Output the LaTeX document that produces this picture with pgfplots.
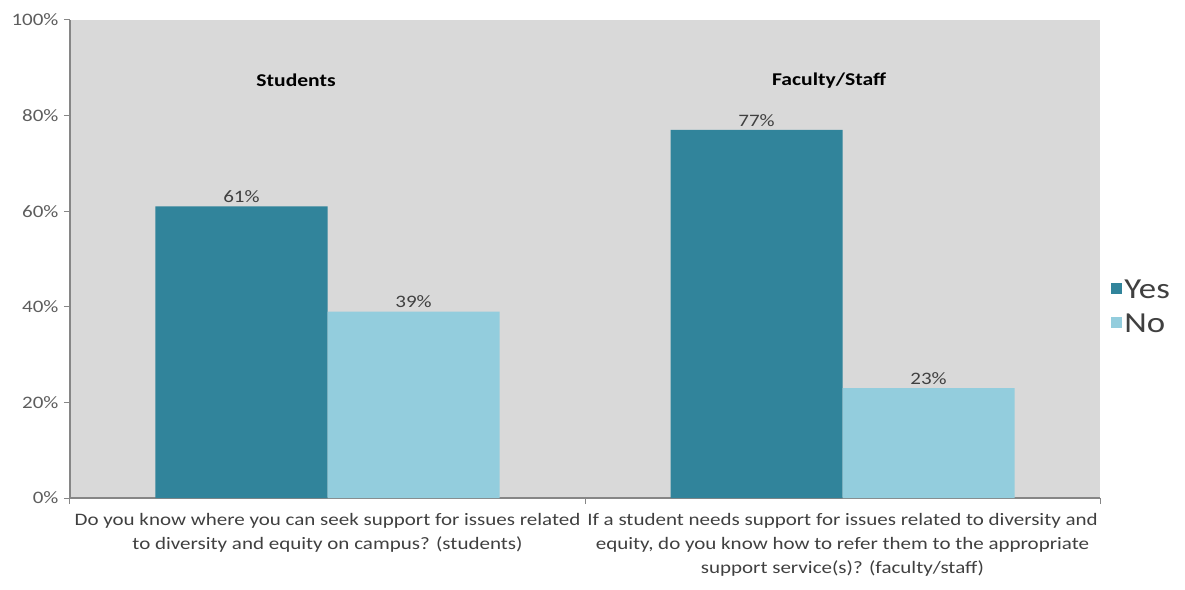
\documentclass[border=0pt]{standalone}
\usepackage{pgfplots}
\pgfplotsset{compat=1.18}
\usepackage{fontspec}
\setmainfont{Carlito}[FakeStretch=1.2]
\definecolor{yescol}{RGB}{49,132,155}
\definecolor{nocol}{RGB}{147,205,221}
\definecolor{bgcol}{RGB}{217,217,217}
\definecolor{axcol}{RGB}{134,134,134}
\definecolor{txtcol}{RGB}{64,64,64}
\begin{document}
\begin{tikzpicture}
\path[use as bounding box] (-70pt,-91pt) rectangle (1115pt,498pt);
\begin{axis}[
  at={(0pt,0pt)}, anchor=south west,
  scale only axis, width=1030pt, height=478pt,
  ybar=0pt, bar width=172pt,
  xmin=-0.5, xmax=1.5, ymin=0, ymax=100,
  axis background/.style={fill=bgcol},
  axis x line=bottom, axis y line=left,
  axis line style={draw=axcol, line width=1.2pt, -},
  tick align=outside,
  major tick length=6pt,
  tick style={draw=axcol, line width=1pt},
  xtick={-0.5,0.5,1.5}, xticklabels={,,},
  extra x ticks={0,1},
  extra x tick style={major tick length=0pt, grid=none},
  extra x tick labels={{Do you know where you can seek support for issues related\\to diversity and equity on campus? (students)},
    {If a student needs support for issues related to diversity and\\equity, do you know how to refer them to the appropriate\\support service(s)? (faculty/staff)}},
  xticklabel style={align=center, font=\fontsize{17.5}{24}\selectfont, text=txtcol, yshift=-12pt},
  ytick={0,20,40,60,80,100},
  yticklabels={0\%,20\%,40\%,60\%,80\%,100\%},
  yticklabel style={font=\fontsize{17.5}{20}\selectfont, text=txtcol!85, xshift=-2pt},
  nodes near coords={\pgfmathprintnumber[assume math mode=true]{\pgfplotspointmeta}\%},
  nodes near coords style={font=\fontsize{17.5}{20}\selectfont, text=txtcol},
  legend style={at={(1.008,0.40)}, anchor=west, draw=none, fill=none,
    font=\fontsize{29}{30}\selectfont, text=txtcol, row sep=10pt,
    /tikz/every even column/.append style={column sep=0pt}},
  legend cell align=left,
  legend image code/.code={\fill[#1] (0pt,-4pt) rectangle (11pt,7pt);},
  clip=false,
]
\addplot[fill=yescol, draw=none] coordinates {(0,61) (1,77)};
\addplot[fill=nocol, draw=none] coordinates {(0,39) (1,23)};
\legend{Yes,No}
\node[font=\bfseries\fontsize{18}{20}\selectfont] at (axis cs:-0.061,87.4) {Students};
\node[font=\bfseries\fontsize{18}{20}\selectfont] at (axis cs:0.974,87.4) {Faculty/Staff};
\end{axis}
\end{tikzpicture}
\end{document}
